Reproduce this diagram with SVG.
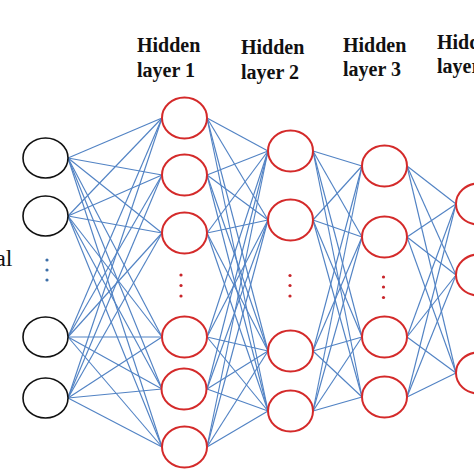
<svg xmlns="http://www.w3.org/2000/svg" width="474" height="474" viewBox="0 0 474 474">
<style>
.lbl{font-family:"Liberation Serif","Times New Roman",serif;font-weight:bold;font-size:20px;fill:#111}
.side{font-family:"Liberation Serif","Times New Roman",serif;font-size:24px;fill:#111}
.in{fill:#fff;stroke:#111;stroke-width:1.6}
.hid{fill:#fff;stroke:#d42a2a;stroke-width:2}
#connectors line{stroke:#5283c4;stroke-width:1.15}
.bd{fill:#3d6fa8}
.rd{fill:#c8252a}
</style>
<rect width="474" height="474" fill="#fff"/>
<g id="labels">
<text class="lbl" x="137" y="52">Hidden</text><text class="lbl" x="137" y="77">layer 1</text>
<text class="lbl" x="241" y="54">Hidden</text><text class="lbl" x="241" y="79">layer 2</text>
<text class="lbl" x="343" y="52">Hidden</text><text class="lbl" x="343" y="76">layer 3</text>
<text class="lbl" x="437" y="49">Hidden</text><text class="lbl" x="437" y="73">layer 4</text>
<text class="side" x="12.5" y="266" text-anchor="end">al</text>
</g>
<g id="connectors">
<line x1="68" y1="158" x2="162" y2="118"/><line x1="68" y1="158" x2="162" y2="175"/><line x1="68" y1="158" x2="162" y2="233"/><line x1="68" y1="158" x2="162" y2="337"/><line x1="68" y1="158" x2="162" y2="389"/><line x1="68" y1="158" x2="162" y2="447"/>
<line x1="68" y1="216" x2="162" y2="118"/><line x1="68" y1="216" x2="162" y2="175"/><line x1="68" y1="216" x2="162" y2="233"/><line x1="68" y1="216" x2="162" y2="337"/><line x1="68" y1="216" x2="162" y2="389"/><line x1="68" y1="216" x2="162" y2="447"/>
<line x1="68" y1="337" x2="162" y2="118"/><line x1="68" y1="337" x2="162" y2="175"/><line x1="68" y1="337" x2="162" y2="233"/><line x1="68" y1="337" x2="162" y2="337"/><line x1="68" y1="337" x2="162" y2="389"/><line x1="68" y1="337" x2="162" y2="447"/>
<line x1="68" y1="398" x2="162" y2="118"/><line x1="68" y1="398" x2="162" y2="175"/><line x1="68" y1="398" x2="162" y2="233"/><line x1="68" y1="398" x2="162" y2="337"/><line x1="68" y1="398" x2="162" y2="389"/><line x1="68" y1="398" x2="162" y2="447"/>
<line x1="207" y1="118" x2="268" y2="151"/><line x1="207" y1="118" x2="268" y2="220"/><line x1="207" y1="118" x2="268" y2="351"/><line x1="207" y1="118" x2="268" y2="411"/>
<line x1="207" y1="175" x2="268" y2="151"/><line x1="207" y1="175" x2="268" y2="220"/><line x1="207" y1="175" x2="268" y2="351"/><line x1="207" y1="175" x2="268" y2="411"/>
<line x1="207" y1="233" x2="268" y2="151"/><line x1="207" y1="233" x2="268" y2="220"/><line x1="207" y1="233" x2="268" y2="351"/><line x1="207" y1="233" x2="268" y2="411"/>
<line x1="207" y1="337" x2="268" y2="151"/><line x1="207" y1="337" x2="268" y2="220"/><line x1="207" y1="337" x2="268" y2="351"/><line x1="207" y1="337" x2="268" y2="411"/>
<line x1="207" y1="389" x2="268" y2="151"/><line x1="207" y1="389" x2="268" y2="220"/><line x1="207" y1="389" x2="268" y2="351"/><line x1="207" y1="389" x2="268" y2="411"/>
<line x1="207" y1="447" x2="268" y2="151"/><line x1="207" y1="447" x2="268" y2="220"/><line x1="207" y1="447" x2="268" y2="351"/><line x1="207" y1="447" x2="268" y2="411"/>
<line x1="313" y1="151" x2="362" y2="166"/><line x1="313" y1="151" x2="362" y2="237"/><line x1="313" y1="151" x2="362" y2="337"/><line x1="313" y1="151" x2="362" y2="397"/>
<line x1="313" y1="220" x2="362" y2="166"/><line x1="313" y1="220" x2="362" y2="237"/><line x1="313" y1="220" x2="362" y2="337"/><line x1="313" y1="220" x2="362" y2="397"/>
<line x1="313" y1="351" x2="362" y2="166"/><line x1="313" y1="351" x2="362" y2="237"/><line x1="313" y1="351" x2="362" y2="337"/><line x1="313" y1="351" x2="362" y2="397"/>
<line x1="313" y1="411" x2="362" y2="166"/><line x1="313" y1="411" x2="362" y2="237"/><line x1="313" y1="411" x2="362" y2="337"/><line x1="313" y1="411" x2="362" y2="397"/>
<line x1="407" y1="166" x2="456" y2="204"/><line x1="407" y1="166" x2="456" y2="275"/><line x1="407" y1="166" x2="456" y2="373"/>
<line x1="407" y1="237" x2="456" y2="204"/><line x1="407" y1="237" x2="456" y2="275"/><line x1="407" y1="237" x2="456" y2="373"/>
<line x1="407" y1="337" x2="456" y2="204"/><line x1="407" y1="337" x2="456" y2="275"/><line x1="407" y1="337" x2="456" y2="373"/>
<line x1="407" y1="397" x2="456" y2="204"/><line x1="407" y1="397" x2="456" y2="275"/><line x1="407" y1="397" x2="456" y2="373"/>
</g>
<g id="input-layer">
<ellipse id="in1" class="in" cx="45.5" cy="158" rx="22.5" ry="20"/>
<ellipse id="in2" class="in" cx="45.5" cy="216" rx="22.5" ry="20"/>
<ellipse id="in3" class="in" cx="45.5" cy="337" rx="22.5" ry="20"/>
<ellipse id="in4" class="in" cx="45.5" cy="398" rx="22.5" ry="20"/>
<g id="in-dots"><circle class="bd" cx="47" cy="260" r="1.6"/><circle class="bd" cx="47" cy="270" r="1.6"/><circle class="bd" cx="47" cy="280" r="1.6"/></g>
</g>
<g id="hidden-layer-1">
<ellipse id="h1n1" class="hid" cx="184.5" cy="118" rx="22.5" ry="20.5"/>
<ellipse id="h1n2" class="hid" cx="184.5" cy="175" rx="22.5" ry="20.5"/>
<ellipse id="h1n3" class="hid" cx="184.5" cy="233" rx="22.5" ry="20.5"/>
<ellipse id="h1n4" class="hid" cx="184.5" cy="337" rx="22.5" ry="20.5"/>
<ellipse id="h1n5" class="hid" cx="184" cy="389" rx="22.5" ry="20.5"/>
<ellipse id="h1n6" class="hid" cx="184.5" cy="447" rx="22.5" ry="20.5"/>
<g id="h1-dots"><circle class="rd" cx="181" cy="275" r="1.6"/><circle class="rd" cx="181" cy="285.5" r="1.6"/><circle class="rd" cx="181" cy="296" r="1.6"/></g>
</g>
<g id="hidden-layer-2">
<ellipse id="h2n1" class="hid" cx="290.5" cy="151" rx="22.5" ry="20.5"/>
<ellipse id="h2n2" class="hid" cx="290.5" cy="220" rx="22.5" ry="20.5"/>
<ellipse id="h2n3" class="hid" cx="290.5" cy="351" rx="22.5" ry="20.5"/>
<ellipse id="h2n4" class="hid" cx="290.5" cy="411" rx="22.5" ry="20.5"/>
<g id="h2-dots"><circle class="rd" cx="290" cy="275.5" r="1.6"/><circle class="rd" cx="290" cy="285.5" r="1.6"/><circle class="rd" cx="290" cy="296" r="1.6"/></g>
</g>
<g id="hidden-layer-3">
<ellipse id="h3n1" class="hid" cx="384.5" cy="166" rx="22.5" ry="20.5"/>
<ellipse id="h3n2" class="hid" cx="384.5" cy="237" rx="22.5" ry="20.5"/>
<ellipse id="h3n3" class="hid" cx="384.5" cy="337" rx="22.5" ry="20.5"/>
<ellipse id="h3n4" class="hid" cx="384.5" cy="397" rx="22.5" ry="20.5"/>
<g id="h3-dots"><circle class="rd" cx="383.5" cy="277" r="1.6"/><circle class="rd" cx="383.5" cy="287" r="1.6"/><circle class="rd" cx="383.5" cy="297.5" r="1.6"/></g>
</g>
<g id="hidden-layer-4">
<ellipse id="h4n1" class="hid" cx="478.5" cy="204" rx="22.5" ry="20.5"/>
<ellipse id="h4n2" class="hid" cx="478.5" cy="275" rx="22.5" ry="20.5"/>
<ellipse id="h4n3" class="hid" cx="478.5" cy="373" rx="22.5" ry="20.5"/>
</g>
</svg>
